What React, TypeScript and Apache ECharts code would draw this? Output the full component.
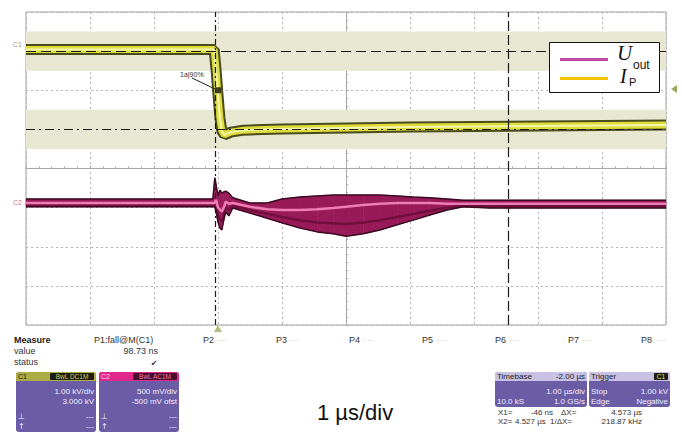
import React, { useEffect, useRef } from "react";
import * as echarts from "echarts";

// time axis in µs (trigger at 0), vertical axis in graticule divisions (0 = bottom)
const xMin = -3;
const xMax = 7;
const yMin = 0;
const yMax = 8;

// C1 (current, yellow)
const c1Time = [-3, -0.06, -0.03, 0, 0.03, 0.06, 0.1, 0.2, 0.4, 1, 3, 7];
const c1Level = [7.04, 7.04, 6.52, 5.88, 5.29, 4.96, 4.86, 4.93, 4.98, 5.01, 5.06, 5.11];

// C2 (output voltage, magenta) envelope
const c2Time = [-3, -0.08, -0.05, -0.03, 0, 0.03, 0.06, 0.09, 0.12, 0.17, 0.23, 0.5, 0.77, 1.0, 1.28, 1.55, 1.8, 2.0, 2.27, 2.53, 2.8, 3.05, 3.31, 3.58, 3.83, 4.25, 7];
const c2Upper = [3.22, 3.22, 3.76, 3.58, 3.3, 3.45, 3.37, 3.4, 3.42, 3.37, 3.25, 3.12, 3.12, 3.22, 3.27, 3.3, 3.32, 3.32, 3.32, 3.32, 3.3, 3.27, 3.25, 3.22, 3.19, 3.19, 3.19];
const c2Lower = [3.02, 3.02, 3.02, 2.89, 2.63, 2.48, 2.43, 2.68, 2.89, 2.79, 2.99, 2.86, 2.73, 2.61, 2.48, 2.38, 2.33, 2.27, 2.33, 2.43, 2.56, 2.68, 2.81, 2.94, 3.02, 2.99, 2.99];
const c2Core = [3.12, 3.12, 3.12, 3.2, 3.0, 2.95, 2.9, 3.0, 3.15, 3.1, 3.12, 3.02, 2.96, 2.94, 2.94, 2.96, 2.99, 3.02, 3.07, 3.1, 3.12, 3.12, 3.12, 3.1, 3.1, 3.1, 3.1];
const c2Streak = [3.05, 3.05, 3.05, 3.0, 2.8, 2.7, 2.65, 2.8, 3.0, 2.95, 3.04, 2.93, 2.84, 2.76, 2.68, 2.62, 2.6, 2.58, 2.62, 2.68, 2.76, 2.84, 2.92, 3.0, 3.05, 3.04, 3.04];

// cursors and measurement marker
const vCursors = [-0.046, 4.527];
const hCursors = [7, 5];
const shadedBands = [[6.5, 7.5], [4.5, 5.5]];
const markerPoint = [[0, 6.0]];

const pLabels = ["P2", "P3", "P4", "P5", "P6", "P7", "P8"];

const SANS = "Liberation Sans, Arial, sans-serif";

function txt(x: number, y: number, text: string, o: any = {}) {
  return {
    type: "text",
    x,
    y,
    silent: true,
    z: 20,
    style: {
      text,
      font: `${o.italic ? "italic " : ""}${o.bold ? "bold " : ""}${o.size || 8}px ${o.family || SANS}`,
      fill: o.fill || "#333333",
      textAlign: o.align || "left",
      textVerticalAlign: "middle",
    },
  };
}

function rect(x: number, y: number, w: number, h: number, fill: string, r: any = 0, extra: any = {}) {
  return {
    type: "rect",
    silent: true,
    z: 15,
    shape: { x, y, width: w, height: h, r },
    style: { fill, ...extra },
  };
}

export default function App() {
  const ref = useRef<HTMLDivElement>(null);

  useEffect(() => {
    if (!ref.current) return;
    const chart = echarts.init(ref.current, null, { renderer: "svg" });

    const c1Data = c1Time.map((t, i) => [t, c1Level[i]]);
    const c2UpperData = c2Time.map((t, i) => [t, c2Upper[i]]);
    const c2LowerData = c2Time.map((t, i) => [t, c2Lower[i]]);
    const c2CoreData = c2Time.map((t, i) => [t, c2Core[i]]);
    const c2StreakData = c2Time.map((t, i) => [t, c2Streak[i]]);
    const c2Segments = c2Time.slice(0, -1).map((t, i) => [
      t,
      c2Time[i + 1],
      c2Lower[i],
      c2Upper[i],
      c2Lower[i + 1],
      c2Upper[i + 1],
    ]);

    const boxPurple = "#6b5ca6";
    const boxText = "#f0f0ff";
    const header = "#c8c1e3";
    const fs = 9;

    const graphics: any[] = [
      // channel labels on the left
      txt(13, 44, "C1", { size: 7, fill: "#a4a46a" }),
      txt(13, 202, "C2", { size: 7, fill: "#c77a9c" }),
      // measurement marker label
      txt(180, 74, "1a|90%", { size: 7, fill: "#333" }),
      {
        type: "line",
        silent: true,
        z: 20,
        shape: { x1: 192, y1: 78, x2: 215, y2: 89 },
        style: { stroke: "#222", lineWidth: 1 },
      },
      // trigger markers
      {
        type: "polygon",
        silent: true,
        z: 20,
        shape: { points: [[214, 332], [222, 332], [218, 325]] },
        style: { fill: "#b4bb7c" },
      },
      {
        type: "polygon",
        silent: true,
        z: 20,
        shape: { points: [[677, 85], [677, 93], [671, 89]] },
        style: { fill: "#9aa862" },
      },
      // legend box
      {
        type: "rect",
        silent: true,
        z: 20,
        shape: { x: 549.5, y: 42.5, width: 110, height: 50 },
        style: { fill: "#ffffff", stroke: "#111111", lineWidth: 1 },
      },
      {
        type: "line",
        silent: true,
        z: 21,
        shape: { x1: 560, y1: 59.5, x2: 608, y2: 59.5 },
        style: { stroke: "#c04a9f", lineWidth: 3 },
      },
      {
        type: "line",
        silent: true,
        z: 21,
        shape: { x1: 560, y1: 78.5, x2: 608, y2: 78.5 },
        style: { stroke: "#f5c400", lineWidth: 3 },
      },
      txt(617, 53, "U", { size: 21, italic: true, family: "Liberation Serif, serif", fill: "#111" }),
      txt(633, 65, "out", { size: 12, fill: "#111" }),
      txt(620, 76, "I", { size: 20, italic: true, family: "Liberation Serif, serif", fill: "#111" }),
      txt(629, 82, "P", { size: 11, fill: "#111" }),

      // Measure panel
      txt(14, 340, "Measure", { bold: true, size: fs, fill: "#222" }),
      txt(14, 351, "value", { size: fs, fill: "#333" }),
      txt(14, 362, "status", { size: fs, fill: "#333" }),
      txt(94, 340, "P1:fall@M(C1)", { size: fs, fill: "#333" }),
      txt(158, 351, "98.73 ns", { size: fs, fill: "#333", align: "right" }),
      txt(154, 363, "\u2714", { size: 8, fill: "#333", align: "center", family: "DejaVu Sans" }),

      // C1 box
      rect(16, 372, 80, 60, boxPurple, 3),
      rect(16, 372, 80, 9, "#adad48", [3, 3, 0, 0]),
      rect(50, 373, 44, 7, "#1e1e10", 1),
      txt(18, 376.5, "C1", { size: 7, fill: "#1e1e10" }),
      txt(72, 376.5, "BwL DC1M", { size: 6.5, fill: "#cccc6a", align: "center" }),
      txt(94, 391, "1.00 kV/div", { size: 8, fill: boxText, align: "right" }),
      txt(94, 401, "3.000 kV", { size: 8, fill: boxText, align: "right" }),
      txt(18, 416, "\u22a5", { size: 8, fill: boxText, family: "DejaVu Sans" }),
      txt(94, 416, "---", { size: 8, fill: boxText, align: "right" }),
      txt(18, 426, "\u2191", { size: 8, fill: boxText, family: "DejaVu Sans" }),
      txt(94, 426, "---", { size: 8, fill: boxText, align: "right" }),

      // C2 box
      rect(99, 372, 80, 60, boxPurple, 3),
      rect(99, 372, 80, 9, "#e0288c", [3, 3, 0, 0]),
      rect(133, 373, 44, 7, "#4c0c2c", 1),
      txt(101, 376.5, "C2", { size: 7, fill: "#ffd6ea" }),
      txt(155, 376.5, "BwL AC1M", { size: 6.5, fill: "#f07ab4", align: "center" }),
      txt(177, 391, "500 mV/div", { size: 8, fill: boxText, align: "right" }),
      txt(177, 401, "-500 mV ofst", { size: 8, fill: boxText, align: "right" }),
      txt(101, 416, "\u22a5", { size: 8, fill: boxText, family: "DejaVu Sans" }),
      txt(177, 416, "---", { size: 8, fill: boxText, align: "right" }),
      txt(101, 426, "\u2191", { size: 8, fill: boxText, family: "DejaVu Sans" }),
      txt(177, 426, "---", { size: 8, fill: boxText, align: "right" }),

      // Timebase box
      rect(495, 372, 92, 35, boxPurple, 3),
      rect(495, 372, 92, 9, header, [3, 3, 0, 0]),
      txt(497, 376.5, "Timebase", { size: 8, fill: "#222" }),
      txt(585, 376.5, "-2.00 \u00b5s", { size: 8, fill: "#222", align: "right" }),
      txt(585, 391, "1.00 \u00b5s/div", { size: 8, fill: boxText, align: "right" }),
      txt(497, 401, "10.0 kS", { size: 8, fill: boxText }),
      txt(585, 401, "1.0 GS/s", { size: 8, fill: boxText, align: "right" }),

      // Trigger box
      rect(589, 372, 81, 35, boxPurple, 3),
      rect(589, 372, 81, 9, header, [3, 3, 0, 0]),
      txt(591, 376.5, "Trigger", { size: 8, fill: "#222" }),
      rect(654, 373, 14, 7, "#1e1e10", 1),
      txt(661, 376.5, "C1", { size: 6.5, fill: "#e0e070", align: "center" }),
      txt(591, 391, "Stop", { size: 8, fill: boxText }),
      txt(668, 391, "1.00 kV", { size: 8, fill: boxText, align: "right" }),
      txt(591, 401, "Edge", { size: 8, fill: boxText }),
      txt(668, 401, "Negative", { size: 8, fill: boxText, align: "right" }),

      // cursor readouts
      txt(498, 412, "X1=", { size: 8 }),
      txt(553, 412, "-46 ns", { size: 8, align: "right" }),
      txt(561, 412, "\u0394X=", { size: 8 }),
      txt(642, 412, "4.573 \u00b5s", { size: 8, align: "right" }),
      txt(498, 421, "X2=", { size: 8 }),
      txt(515, 421, "4.527 \u00b5s", { size: 8 }),
      txt(550, 421, "1/\u0394X=", { size: 8 }),
      txt(642, 421, "218.87 kHz", { size: 8, align: "right" }),

      // time per division annotation
      txt(355, 412, "1 \u00b5s/div", { size: 22, fill: "#111", align: "center" }),
    ];

    pLabels.forEach((p, i) => {
      const x = 203 + i * 73;
      graphics.push(txt(x, 340, p, { size: 9, fill: "#333" }));
      graphics.push(txt(x + 15, 340, "- - -", { size: 6, fill: "#aaaaaa" }));
    });

    const option: any = {
      animation: false,
      backgroundColor: "#ffffff",
      grid: {
        left: 26,
        right: 16,
        top: 12,
        bottom: 109,
        show: true,
        borderColor: "#a0a0a0",
        borderWidth: 1,
        backgroundColor: "transparent",
      },
      xAxis: [
        {
          type: "value",
          min: xMin,
          max: xMax,
          interval: 1,
          axisLine: { show: false },
          axisTick: { show: false },
          axisLabel: { show: false },
          splitLine: { show: true, lineStyle: { color: "#b4b4b4", type: [2, 3], width: 1 } },
        },
        {
          type: "value",
          min: xMin,
          max: xMax,
          interval: 1,
          position: "bottom",
          offset: -156.5,
          axisLine: { show: true, onZero: false, lineStyle: { color: "#a8a8a8", width: 1 } },
          axisTick: { show: true, length: 3, inside: true, lineStyle: { color: "#a8a8a8" } },
          minorTick: { show: true, splitNumber: 5, length: 2, lineStyle: { color: "#a8a8a8" } },
          axisLabel: { show: false },
          splitLine: { show: false },
        },
      ],
      yAxis: [
        {
          type: "value",
          min: yMin,
          max: yMax,
          interval: 1,
          axisLine: { show: false },
          axisTick: { show: false },
          axisLabel: { show: false },
          splitLine: { show: true, lineStyle: { color: "#b4b4b4", type: [2, 3], width: 1 } },
        },
        {
          type: "value",
          min: yMin,
          max: yMax,
          interval: 1,
          position: "left",
          offset: -320,
          axisLine: { show: true, onZero: false, lineStyle: { color: "#a8a8a8", width: 1 } },
          axisTick: { show: true, length: 3, inside: true, lineStyle: { color: "#a8a8a8" } },
          minorTick: { show: true, splitNumber: 5, length: 2, lineStyle: { color: "#a8a8a8" } },
          axisLabel: { show: false },
          splitLine: { show: false },
        },
      ],
      series: [
        {
          name: "bands",
          type: "line",
          data: [],
          z: -5,
          silent: true,
          markArea: {
            silent: true,
            itemStyle: { color: "#e7e7d2" },
            data: shadedBands.map((b) => [
              { xAxis: xMin, yAxis: b[0] },
              { xAxis: xMax, yAxis: b[1] },
            ]),
          },
        },
        {
          name: "C1 edge",
          type: "line",
          data: c1Data,
          showSymbol: false,
          symbol: "none",
          z: 3,
          lineStyle: { color: "#4a4a1e", width: 11 },
        },
        {
          name: "C1",
          type: "line",
          data: c1Data,
          showSymbol: false,
          symbol: "none",
          z: 3,
          lineStyle: { color: "#dcdc3a", width: 7 },
        },
        {
          name: "C1 core",
          type: "line",
          data: c1Data,
          showSymbol: false,
          symbol: "none",
          z: 3,
          lineStyle: { color: "#f5f5b0", width: 2 },
        },
        {
          name: "C2 band",
          type: "custom",
          data: c2Segments,
          z: 4,
          silent: true,
          encode: { x: [0, 1], y: [2, 3, 4, 5] },
          renderItem: (params: any, api: any) => {
            const t0 = api.value(0);
            const t1 = api.value(1);
            const p = [
              api.coord([t0, api.value(3)]),
              api.coord([t1, api.value(5)]),
              api.coord([t1, api.value(4)]),
              api.coord([t0, api.value(2)]),
            ];
            return {
              type: "polygon",
              shape: { points: p },
              style: { fill: "#981a58", stroke: "#981a58", lineWidth: 0.6 },
            };
          },
        },
        {
          name: "C2 streak",
          type: "line",
          data: c2StreakData,
          showSymbol: false,
          symbol: "none",
          z: 5,
          lineStyle: { color: "#6e0f3c", width: 2.5 },
        },
        {
          name: "C2 upper",
          type: "line",
          data: c2UpperData,
          showSymbol: false,
          symbol: "none",
          z: 5,
          lineStyle: { color: "#3a0a22", width: 1.5 },
        },
        {
          name: "C2 lower",
          type: "line",
          data: c2LowerData,
          showSymbol: false,
          symbol: "none",
          z: 5,
          lineStyle: { color: "#3a0a22", width: 1.5 },
        },
        {
          name: "C2 core",
          type: "line",
          data: c2CoreData,
          showSymbol: false,
          symbol: "none",
          z: 6,
          lineStyle: { color: "#f07db6", width: 2.5 },
        },
        {
          name: "marker",
          type: "scatter",
          data: markerPoint,
          symbol: "rect",
          symbolSize: 6,
          z: 12,
          itemStyle: { color: "#111111" },
        },
        {
          name: "cursors",
          type: "line",
          data: [],
          z: 10,
          silent: true,
          markLine: {
            silent: true,
            symbol: "none",
            label: { show: false },
            lineStyle: { color: "#1a1a1a", width: 1.2 },
            data: [
              { xAxis: vCursors[0], lineStyle: { type: [6, 3, 2, 3], color: "#1a1a1a", width: 1.2 } },
              { xAxis: vCursors[1], lineStyle: { type: [10, 4], color: "#1a1a1a", width: 1.2 } },
              { yAxis: hCursors[0], lineStyle: { type: [10, 5], color: "#1a1a1a", width: 1.2 } },
              { yAxis: hCursors[1], lineStyle: { type: [9, 4, 2, 4], color: "#1a1a1a", width: 1.2 } },
            ],
          },
        },
      ],
      graphic: graphics,
    };

    chart.setOption(option);
    return () => chart.dispose();
  }, []);

  return <div ref={ref} style={{ width: 682, height: 434, position: "absolute", left: 0, top: 0 }} />;
}
